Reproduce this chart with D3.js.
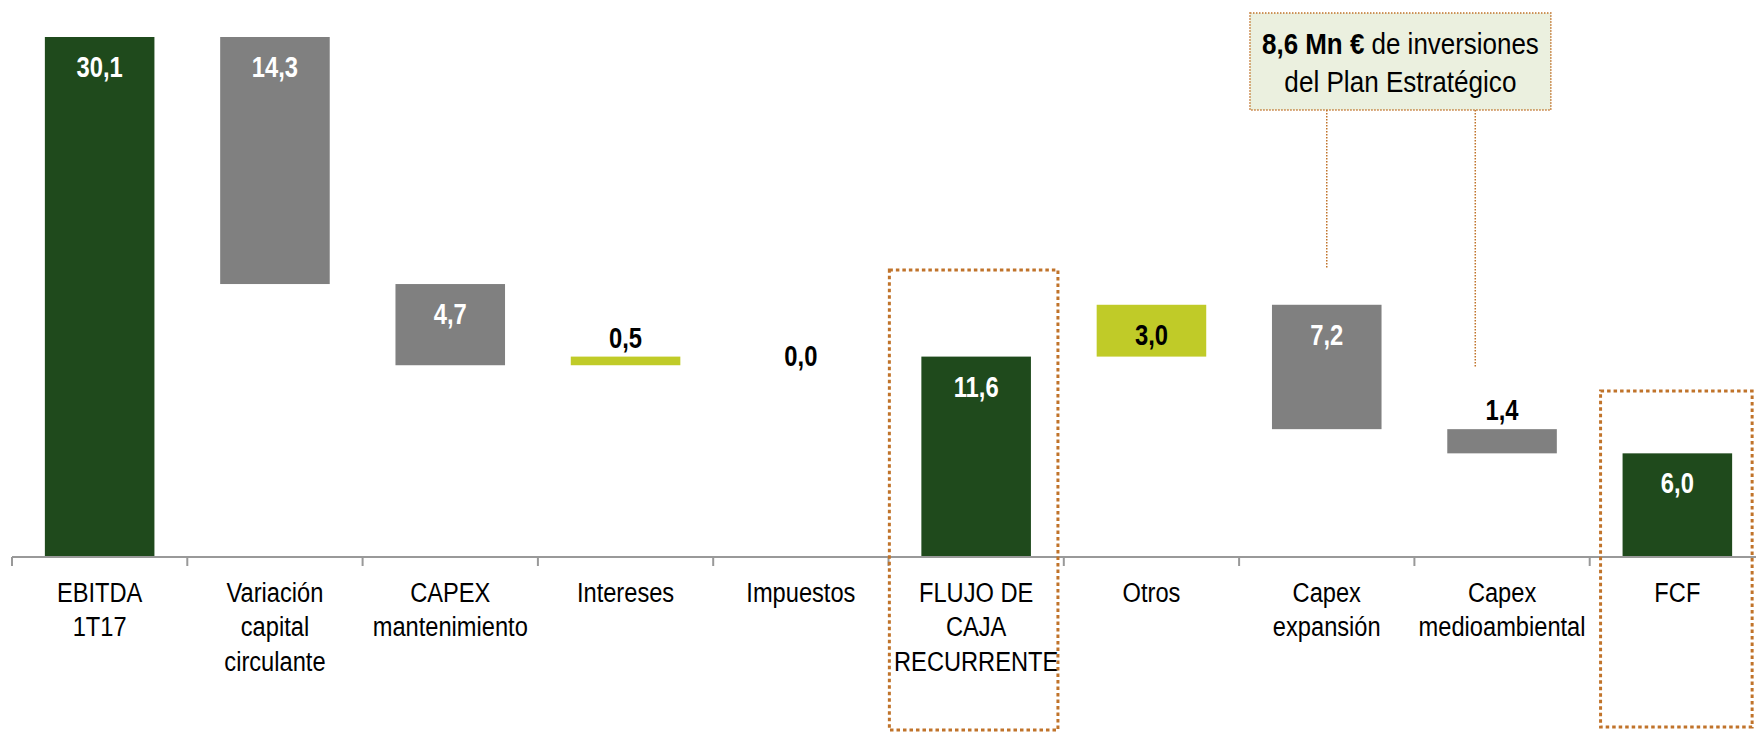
<!DOCTYPE html>
<html>
<head>
<meta charset="utf-8">
<script src="https://cdn.jsdelivr.net/npm/d3@7"></script>
<style>
  html, body { margin: 0; padding: 0; background: #fff; }
  svg { display: block; }
  text { font-family: "Liberation Sans", Arial, sans-serif; }
</style>
</head>
<body>
<svg id="chart" width="1756" height="732"></svg>
<script>
// categories (each entry holds the label lines)
const categories = [
  ["EBITDA", "1T17"],
  ["Variación", "capital", "circulante"],
  ["CAPEX", "mantenimiento"],
  ["Intereses"],
  ["Impuestos"],
  ["FLUJO DE", "CAJA", "RECURRENTE"],
  ["Otros"],
  ["Capex", "expansión"],
  ["Capex", "medioambiental"],
  ["FCF"]
];
// signed movements; totals are absolute
const values = [30.1, -14.3, -4.7, 0.5, 0.0, 11.6, 3.0, -7.2, -1.4, 6.0];
const kinds = ["total", "delta", "delta", "delta", "delta", "total", "delta", "delta", "delta", "total"];
const yMax = 30.1;
const highlighted = [5, 9];            // dotted boxes
const capexLinks = [7, 8];             // legs of the annotation box
const noteBold = "8,6 Mn €";
const noteRest = " de inversiones";
const noteLine2 = "del Plan Estratégico";

const colors = { total: "#1f4a1c", neg: "#808080", pos: "#c0cb28", box: "#c0732a" };

const svg = d3.select("#chart");
const axisY = 557, plotTop = 37;

const x = d3.scaleBand()
  .domain(d3.range(categories.length))
  .range([12, 1765])
  .paddingInner(0.375)
  .paddingOuter(0.1875);

const y = d3.scaleLinear().domain([0, yMax]).range([axisY, plotTop]);

// narrow font look: squeeze text horizontally around its anchor
const squeeze = (sel, px, py, sx) => sel.attr("transform", (d, i) => `translate(${px(d, i)},${py(d, i)}) scale(${sx},1)`);

// running waterfall
let run = 0;
const bars = values.map((v, i) => {
  let lo, hi;
  if (kinds[i] === "total") { lo = 0; hi = v; run = v; }
  else { const start = run; run += v; lo = Math.min(start, run); hi = Math.max(start, run); }
  return { i, v, lo, hi, kind: kinds[i] };
});

// bars
svg.append("g").selectAll("rect")
  .data(bars.filter(d => d.hi - d.lo > 0))
  .join("rect")
  .attr("x", d => x(d.i))
  .attr("width", x.bandwidth())
  .attr("y", d => y(d.hi))
  .attr("height", d => y(d.lo) - y(d.hi))
  .attr("fill", d => d.kind === "total" ? colors.total : (d.v < 0 ? colors.neg : colors.pos));

// value labels
const fmt = v => Math.abs(v).toFixed(1).replace(".", ",");
svg.append("g").selectAll("text")
  .data(bars)
  .join("text")
  .attr("text-anchor", "middle")
  .attr("font-size", 29)
  .attr("font-weight", "bold")
  .call(squeeze, d => x(d.i) + x.bandwidth() / 2, d => {
    const h = y(d.lo) - y(d.hi);
    if (h === 0) return y(d.hi) + 9;
    if (h < 40) return y(d.hi) - 9;
    return y(d.hi) + 40;
  }, 0.82)
  .attr("fill", d => {
    const h = y(d.lo) - y(d.hi);
    if (h < 40 || d.kind === "delta" && d.v > 0) return "#000";
    return "#fff";
  })
  .text(d => fmt(d.v));

// axis
const axis = svg.append("g");
axis.append("line")
  .attr("x1", x.range()[0]).attr("x2", x.range()[1])
  .attr("y1", axisY).attr("y2", axisY)
  .attr("stroke", "#999").attr("stroke-width", 2);
const step = x.step();
axis.selectAll(".tick")
  .data(d3.range(categories.length))
  .join("line")
  .attr("x1", i => x(i) - x.paddingOuter() * step)
  .attr("x2", i => x(i) - x.paddingOuter() * step)
  .attr("y1", axisY).attr("y2", axisY + 9)
  .attr("stroke", "#999").attr("stroke-width", 2);

// category labels
const lab = svg.append("g").selectAll("text")
  .data(categories)
  .join("text")
  .attr("text-anchor", "middle")
  .attr("font-size", 28)
  .attr("fill", "#000")
  .call(squeeze, (d, i) => x(i) + x.bandwidth() / 2, () => 602, 0.845);
lab.selectAll("tspan")
  .data(d => d)
  .join("tspan")
  .attr("x", 0)
  .attr("dy", (d, j) => j === 0 ? 0 : 34.5)
  .text(d => d);

// dotted highlight boxes (left offset, extra width, top, bottom)
const boxGeom = { 5: [-32, 59, 270, 730], 9: [-22, 42, 391, 727] };
svg.append("g").selectAll("rect")
  .data(highlighted)
  .join("rect")
  .attr("x", i => x(i) + boxGeom[i][0])
  .attr("width", i => x.bandwidth() + boxGeom[i][1])
  .attr("y", i => boxGeom[i][2])
  .attr("height", i => boxGeom[i][3] - boxGeom[i][2])
  .attr("fill", "none")
  .attr("stroke", colors.box)
  .attr("stroke-width", 3)
  .attr("stroke-dasharray", "3.5 3");

// annotation box with legs
const bx0 = x(capexLinks[0]) - 22, bx1 = x(capexLinks[1]) + x.bandwidth() - 6;
const note = svg.append("g");
note.append("line")
  .attr("x1", x(capexLinks[0]) + x.bandwidth() / 2).attr("x2", x(capexLinks[0]) + x.bandwidth() / 2)
  .attr("y1", 110).attr("y2", 268)
  .attr("stroke", colors.box).attr("stroke-width", 1.5).attr("stroke-dasharray", "1.5 1.5");
note.append("line")
  .attr("x1", x(capexLinks[1]) + 28).attr("x2", x(capexLinks[1]) + 28)
  .attr("y1", 110).attr("y2", 367)
  .attr("stroke", colors.box).attr("stroke-width", 1.5).attr("stroke-dasharray", "1.5 1.5");
note.append("rect")
  .attr("x", bx0).attr("y", 13)
  .attr("width", bx1 - bx0).attr("height", 97)
  .attr("fill", "#ebf0df")
  .attr("stroke", colors.box).attr("stroke-width", 1.5).attr("stroke-dasharray", "1.5 1.5");
const t1 = note.append("text")
  .datum(0)
  .attr("text-anchor", "middle")
  .attr("font-size", 29)
  .call(squeeze, () => (bx0 + bx1) / 2, () => 54, 0.895);
t1.append("tspan").attr("font-weight", "bold").text(noteBold);
t1.append("tspan").text(noteRest);
note.append("text")
  .datum(0)
  .attr("text-anchor", "middle")
  .attr("font-size", 29)
  .call(squeeze, () => (bx0 + bx1) / 2, () => 92, 0.9)
  .text(noteLine2);
</script>
</body>
</html>
